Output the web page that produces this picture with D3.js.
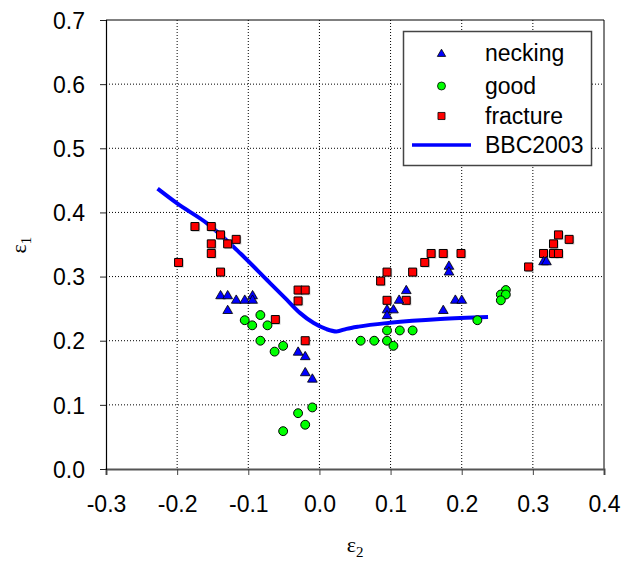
<!DOCTYPE html>
<html><head><meta charset="utf-8">
<script src="https://cdn.jsdelivr.net/npm/d3@7"></script>
<style>body{margin:0;background:#fff}</style>
</head><body>
<svg id="c" width="622" height="562"></svg>
<script>
const xTicks = [-0.3,-0.2,-0.1,0.0,0.1,0.2,0.3,0.4];
const yTicks = [0.0,0.1,0.2,0.3,0.4,0.5,0.6,0.7];
const legendLabels = ["necking","good","fracture","BBC2003"];

const neckingX = [-0.139,-0.129,-0.117,-0.105,-0.094,-0.094,-0.129,-0.030,-0.020,-0.020,-0.010,
  0.182,0.182,0.122,0.112,0.191,0.200,0.174,0.095,0.104,0.095,0.315,0.319];
const neckingY = [0.271,0.271,0.264,0.264,0.271,0.264,0.248,0.183,0.176,0.151,0.141,
  0.317,0.308,0.279,0.264,0.264,0.264,0.248,0.249,0.249,0.240,0.324,0.324];

const goodX = [-0.083,-0.105,-0.0945,-0.073,-0.083,-0.051,-0.063,-0.010,-0.030,-0.020,-0.051,
  0.262,0.255,0.262,0.255,0.222,0.095,0.113,0.131,0.058,0.077,0.095,0.104];
const goodY = [0.240,0.232,0.224,0.224,0.200,0.192,0.183,0.096,0.087,0.069,0.059,
  0.279,0.272,0.272,0.263,0.232,0.216,0.216,0.216,0.200,0.200,0.200,0.192];

const fractureX = [-0.175,-0.152,-0.139,-0.117,-0.152,-0.129,-0.152,-0.198,-0.139,-0.030,-0.020,-0.030,-0.062,-0.020,
  0.336,0.351,0.329,0.315,0.329,0.336,0.294,0.157,0.174,0.199,0.148,0.131,0.095,0.086,0.095,0.122];
const fractureY = [0.378,0.378,0.365,0.358,0.351,0.351,0.336,0.322,0.307,0.279,0.279,0.262,0.233,0.200,
  0.365,0.358,0.351,0.336,0.336,0.336,0.315,0.336,0.336,0.336,0.322,0.307,0.307,0.293,0.263,0.263];

const bbcX = [-0.2275,-0.200,-0.158,-0.111,-0.074,-0.046,-0.027,-0.008,0.010,0.024,0.038,0.055,0.099,0.170,0.237];
const bbcY = [0.437,0.414,0.383,0.336,0.295,0.264,0.243,0.2275,0.218,0.2145,0.2185,0.222,0.228,0.234,0.237];

const svg = d3.select("#c");
const L=106,R=604,T=20,B=469;
const x = d3.scaleLinear().domain([-0.3,0.4]).range([L,R]);
const y = d3.scaleLinear().domain([0,0.7]).range([B,T]);
const font = "'Liberation Sans', Arial, sans-serif";
const fmt = d => d3.format(".1f")(d).replace("\u2212","-");

svg.append("rect").attr("width",622).attr("height",562).attr("fill","#fff");

// grid
const g = svg.append("g");
g.selectAll(".gx").data(xTicks.slice(1,-1)).join("line")
  .attr("x1",d=>x(d)).attr("x2",d=>x(d)).attr("y1",T).attr("y2",B)
  .attr("stroke","#000").attr("stroke-width",1).attr("stroke-dasharray","1,2");
g.selectAll(".gy").data(yTicks.slice(1,-1)).join("line")
  .attr("y1",d=>y(d)).attr("y2",d=>y(d)).attr("x1",L).attr("x2",R)
  .attr("stroke","#000").attr("stroke-width",1).attr("stroke-dasharray","1,2");

// frame
svg.append("line").attr("x1",L).attr("x2",R).attr("y1",T).attr("y2",T).attr("stroke","#000");
svg.append("line").attr("x1",R).attr("x2",R).attr("y1",T).attr("y2",B).attr("stroke","#000");

// axes
const xAxis = svg.append("g").attr("transform",`translate(0,${B})`)
  .call(d3.axisBottom(x).tickValues(xTicks).tickFormat(fmt).tickSizeOuter(0).tickSize(6));
xAxis.select(".domain").attr("stroke","#555").attr("stroke-width",2);
xAxis.selectAll(".tick line").attr("stroke","#444");
xAxis.selectAll("text").attr("font-family",font).attr("font-size",23).attr("fill","#000")
  .attr("y",null).attr("dy",null).attr("transform","translate(0,43)");

const yAxis = svg.append("g").attr("transform",`translate(${L},0)`)
  .call(d3.axisLeft(y).tickValues(yTicks).tickFormat(fmt).tickSizeOuter(0).tickSize(6));
yAxis.select(".domain").attr("stroke","#000").attr("stroke-width",1.2);
yAxis.selectAll(".tick line").attr("stroke","#222");
yAxis.selectAll("text").attr("font-family",font).attr("font-size",23).attr("fill","#000")
  .attr("x",-21).attr("dy","0.36em");

// BBC2003 line
const line = d3.line().x((d,i)=>x(bbcX[i])).y((d,i)=>y(bbcY[i])).curve(d3.curveMonotoneX);
svg.append("path").attr("d",line(bbcX)).attr("fill","none").attr("stroke","#0000ff")
  .attr("stroke-width",4).attr("stroke-linejoin","round");

// markers
const tri = d3.symbol().type(d3.symbolTriangle).size(40);
const circ = d3.symbol().type(d3.symbolCircle).size(62);
const sq = d3.symbol().type(d3.symbolSquare).size(64);

function drawShadow(xs, ys, sym){
  svg.append("g").selectAll("path").data(xs).join("path")
    .attr("d",sym).attr("transform",(d,i)=>`translate(${x(d)+1.2},${y(ys[i])+1.2})`)
    .attr("fill","#999").attr("opacity",0.5);
}
drawShadow(fractureX,fractureY,sq);
svg.append("g").selectAll("path").data(fractureX).join("path")
  .attr("d",sq).attr("transform",(d,i)=>`translate(${x(d)},${y(fractureY[i])})`)
  .attr("fill","#ff0000").attr("stroke","#000").attr("stroke-width",1);
svg.append("g").selectAll("path").data(goodX).join("path")
  .attr("d",circ).attr("transform",(d,i)=>`translate(${x(d)},${y(goodY[i])})`)
  .attr("fill","#00ff00").attr("stroke","#000").attr("stroke-width",1);
drawShadow(neckingX,neckingY,tri);
svg.append("g").selectAll("path").data(neckingX).join("path")
  .attr("d",tri).attr("transform",(d,i)=>`translate(${x(d)},${y(neckingY[i])+0.8})`)
  .attr("fill","#0000ff").attr("stroke","#000").attr("stroke-width",0.8);

// axis titles
const xt = svg.append("text").attr("x",355).attr("y",552).attr("text-anchor","middle")
  .attr("font-family","'Liberation Serif', 'Times New Roman', serif").attr("font-size",22);
xt.append("tspan").text("ε");
xt.append("tspan").attr("font-size",15).attr("dy",5).text("2");

const yt = svg.append("text").attr("transform","translate(26,245) rotate(-90)").attr("text-anchor","middle")
  .attr("font-family","'Liberation Serif', 'Times New Roman', serif").attr("font-size",22);
yt.append("tspan").text("ε");
yt.append("tspan").attr("font-size",15).attr("dy",5).text("1");

// legend
const lg = svg.append("g");
lg.append("rect").attr("x",403.5).attr("y",31.5).attr("width",188).attr("height",134)
  .attr("fill","#fff").attr("stroke","#444").attr("stroke-width",1.5);
const legY = [53,86,116,145];
const lsyms = [
  {sym:d3.symbol().type(d3.symbolTriangle).size(30),fill:"#0000ff"},
  {sym:d3.symbol().type(d3.symbolCircle).size(50),fill:"#00ff00"},
  {sym:d3.symbol().type(d3.symbolSquare).size(50),fill:"#ff0000"}
];
lsyms.forEach((s,i)=>{
  lg.append("path").attr("d",s.sym).attr("transform",`translate(441.5,${legY[i]+(i===0?1:0)})`)
    .attr("fill",s.fill).attr("stroke","#000").attr("stroke-width",0.8);
});
lg.append("line").attr("x1",412).attr("x2",471).attr("y1",legY[3]).attr("y2",legY[3])
  .attr("stroke","#0000ff").attr("stroke-width",3.5);
lg.selectAll(".lt").data(legendLabels).join("text")
  .attr("x",485).attr("y",(d,i)=>legY[i]).attr("dy","0.36em")
  .attr("font-family",font).attr("font-size",23).attr("fill","#000").text(d=>d);
</script>
</body></html>
